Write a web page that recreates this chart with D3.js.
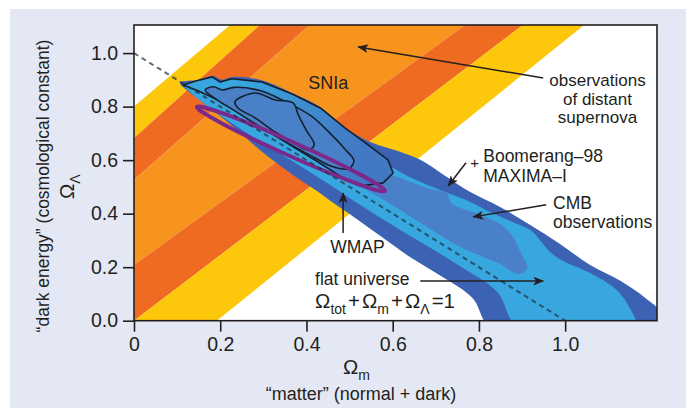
<!DOCTYPE html>
<html>
<head>
<meta charset="utf-8">
<script src="https://cdn.jsdelivr.net/npm/d3@7"></script>
<style>
  html, body { margin: 0; padding: 0; background: #ffffff; }
  svg text { font-family: "Liberation Sans", Arial, sans-serif; fill: #231f20; }
</style>
</head>
<body>
<svg id="chart" width="686" height="408"></svg>
<script>
// ---------- axes ----------
const xDomain = [0, 1.213];
const yDomain = [0, 1.105];
const xTicks = [0, 0.2, 0.4, 0.6, 0.8, 1.0];
const yTicks = [0, 0.2, 0.4, 0.6, 0.8, 1.0];
const xTickLabels = ["0", "0.2", "0.4", "0.6", "0.8", "1.0"];
const yTickLabels = ["0.0", "0.2", "0.4", "0.6", "0.8", "1.0"];

// ---------- SNIa confidence bands ----------
// each edge is a straight line through two (Ωm, ΩΛ) points, ordered from upper-left to lower-right
const sniaEdges = [
  [[0, 0.800], [0.223, 1.105]],
  [[0, 0.683], [0.292, 1.105]],
  [[0, 0.526], [0.408, 1.105]],
  [[0, 0.208], [0.768, 1.105]],
  [[0, 0.000], [0.902, 1.105]],
  [[0.192, 0], [1.044, 1.105]]
];
const sniaColors = ["#fdc70c", "#ef6b22", "#f7941d", "#ef6b22", "#fdc70c"];

// ---------- CMB (Boomerang-98 + MAXIMA-I) confidence regions, (Ωm, ΩΛ) ----------
const cmbOuter = [
  [0.107, 0.889], [0.153, 0.900], [0.183, 0.915], [0.204, 0.900], [0.227, 0.911],
  [0.292, 0.900], [0.362, 0.855], [0.432, 0.799], [0.490, 0.720], [0.548, 0.668],
  [0.617, 0.631], [0.664, 0.601], [0.722, 0.541], [0.780, 0.481], [0.849, 0.425],
  [0.919, 0.358], [0.988, 0.287], [1.058, 0.208], [1.128, 0.149], [1.186, 0.085],
  [1.220, 0.033], [1.220, -0.035], [0.833, -0.035], [0.785, 0.085], [0.712, 0.167],
  [0.640, 0.238], [0.571, 0.317], [0.513, 0.384], [0.466, 0.436], [0.420, 0.489],
  [0.362, 0.552], [0.292, 0.638], [0.234, 0.720], [0.176, 0.795], [0.130, 0.852]
];
const cmbMid = [
  [0.118, 0.878], [0.292, 0.885], [0.385, 0.825], [0.478, 0.720], [0.548, 0.638],
  [0.601, 0.571], [0.664, 0.519], [0.722, 0.481], [0.780, 0.444], [0.826, 0.406],
  [0.872, 0.373], [0.919, 0.339], [0.942, 0.301], [0.965, 0.257], [1.000, 0.219],
  [1.058, 0.178], [1.116, 0.119], [1.146, 0.058], [1.165, -0.035], [0.896, -0.035],
  [0.842, 0.108], [0.760, 0.200], [0.640, 0.317], [0.524, 0.433], [0.455, 0.507],
  [0.362, 0.601], [0.269, 0.694], [0.176, 0.795], [0.130, 0.855]
];
const cmbInner = [
  [0.478, 0.638], [0.548, 0.578], [0.617, 0.533], [0.687, 0.492], [0.724, 0.477],
  [0.738, 0.436], [0.791, 0.403], [0.849, 0.361], [0.877, 0.317], [0.896, 0.257],
  [0.912, 0.197], [0.891, 0.175], [0.849, 0.212], [0.756, 0.276], [0.680, 0.350],
  [0.606, 0.425], [0.548, 0.481], [0.490, 0.537], [0.466, 0.582]
];

// ---------- outlined contours in the low-Ωm corner ----------
const outlineOuter = [
  [0.114, 0.881], [0.153, 0.900], [0.181, 0.911], [0.200, 0.892], [0.227, 0.904],
  [0.297, 0.892], [0.367, 0.847], [0.432, 0.795], [0.490, 0.720], [0.543, 0.657],
  [0.589, 0.601], [0.601, 0.552], [0.578, 0.515], [0.524, 0.503], [0.478, 0.540],
  [0.427, 0.593], [0.374, 0.645], [0.316, 0.703], [0.258, 0.762], [0.200, 0.821],
  [0.148, 0.859]
];
const outlineMid = [
  [0.165, 0.862], [0.185, 0.874], [0.205, 0.862], [0.232, 0.872], [0.292, 0.860],
  [0.352, 0.818], [0.410, 0.766], [0.455, 0.700], [0.490, 0.640], [0.510, 0.598],
  [0.498, 0.568], [0.460, 0.576], [0.410, 0.617], [0.350, 0.670], [0.290, 0.727],
  [0.232, 0.786], [0.190, 0.828]
];
const outlineInner = [
  [0.234, 0.818], [0.281, 0.851], [0.327, 0.825], [0.369, 0.814], [0.381, 0.769],
  [0.399, 0.713], [0.418, 0.657], [0.404, 0.638], [0.374, 0.661], [0.327, 0.705],
  [0.281, 0.758], [0.241, 0.795]
];

// ---------- WMAP ellipse: major-axis end points and half width (in ΩΛ) ----------
const wmapEnds = [[0.146, 0.799], [0.582, 0.485]];
const wmapHalfWidth = 0.026;

// ---------- flat universe line ----------
const flatLine = [[0, 1], [1, 0]];

// ---------- layout ----------
const W = 686, H = 408;
const plot = { left: 134, top: 25, right: 657, bottom: 320.7 };
const ink = "#231f20";

const x = d3.scaleLinear().domain(xDomain).range([plot.left, plot.right]);
const y = d3.scaleLinear().domain(yDomain).range([plot.bottom, plot.top]);

const svg = d3.select("#chart");
const defs = svg.append("defs");

defs.append("clipPath").attr("id", "plotClip")
  .append("rect")
  .attr("x", plot.left).attr("y", plot.top)
  .attr("width", plot.right - plot.left).attr("height", plot.bottom - plot.top);

defs.append("marker")
  .attr("id", "arrowHead")
  .attr("viewBox", "0 0 12 10")
  .attr("refX", 11).attr("refY", 5)
  .attr("markerWidth", 12).attr("markerHeight", 9)
  .attr("markerUnits", "userSpaceOnUse")
  .attr("orient", "auto")
  .append("path")
  .attr("d", "M0,0 L12,5 L0,10 L3,5 Z")
  .attr("fill", ink);

const darkBlue = "#3c62b3", lightBlue = "#38a6df", midBlue = "#4a80c8";

// outer outlined region fades from light blue at the tip to medium blue
const grad = defs.append("linearGradient").attr("id", "tipFade")
  .attr("gradientUnits", "userSpaceOnUse")
  .attr("x1", x(0.25)).attr("y1", 0).attr("x2", x(0.52)).attr("y2", 0);
grad.append("stop").attr("offset", 0).attr("stop-color", lightBlue);
grad.append("stop").attr("offset", 1).attr("stop-color", "#4378c4");

// page background panel
svg.append("rect").attr("width", W).attr("height", H).attr("fill", "#ffffff");
svg.append("rect").attr("x", 10).attr("y", 9).attr("width", W - 10).attr("height", H - 9)
  .attr("fill", "#e4e8f4");

const area = svg.append("g").attr("clip-path", "url(#plotClip)");
area.append("rect")
  .attr("x", plot.left).attr("y", plot.top)
  .attr("width", plot.right - plot.left).attr("height", plot.bottom - plot.top)
  .attr("fill", "#ffffff");

// SNIa bands: polygons between consecutive edges, extended past the frame and clipped
function edgeAt(edge, lam) {
  const [[a0, b0], [a1, b1]] = edge;
  return [a0 + (lam - b0) * (a1 - a0) / (b1 - b0), lam];
}
const lamLo = -0.6, lamHi = 1.8;
const toPx = p => [x(p[0]), y(p[1])];
sniaColors.forEach((c, i) => {
  const e0 = sniaEdges[i], e1 = sniaEdges[i + 1];
  const poly = [edgeAt(e0, lamLo), edgeAt(e0, lamHi), edgeAt(e1, lamHi), edgeAt(e1, lamLo)].map(toPx);
  area.append("path").attr("d", "M" + poly.join("L") + "Z").attr("fill", c);
});

const smooth = d3.line().x(d => x(d[0])).y(d => y(d[1])).curve(d3.curveCatmullRomClosed.alpha(0.5));
const sharp = d3.line().x(d => x(d[0])).y(d => y(d[1])).curve(d3.curveLinearClosed);

area.append("path").attr("d", smooth(cmbOuter)).attr("fill", darkBlue);
area.append("path").attr("d", smooth(cmbMid)).attr("fill", lightBlue);
area.append("path").attr("d", smooth(cmbInner)).attr("fill", midBlue);

const outlineInk = "#15202e";
area.append("path").attr("d", sharp(outlineOuter)).attr("fill", "url(#tipFade)")
  .attr("stroke", outlineInk).attr("stroke-width", 1.6).attr("stroke-linejoin", "round");
area.append("path").attr("d", smooth(outlineMid)).attr("fill", midBlue)
  .attr("stroke", outlineInk).attr("stroke-width", 1.6);
area.append("path").attr("d", smooth(outlineInner)).attr("fill", midBlue)
  .attr("stroke", outlineInk).attr("stroke-width", 1.6);

// WMAP ellipse
{
  const [p0, p1] = wmapEnds.map(toPx);
  const cx = (p0[0] + p1[0]) / 2, cy = (p0[1] + p1[1]) / 2;
  const len = Math.hypot(p1[0] - p0[0], p1[1] - p0[1]);
  const ang = Math.atan2(p1[1] - p0[1], p1[0] - p0[0]) * 180 / Math.PI;
  const ry = y(0) - y(wmapHalfWidth);
  area.append("ellipse")
    .attr("cx", 0).attr("cy", 0).attr("rx", len / 2).attr("ry", ry)
    .attr("transform", `translate(${cx},${cy}) rotate(${ang})`)
    .attr("fill", "none").attr("stroke", "#7b2a8c").attr("stroke-width", 4);
}

// flat-universe line
area.append("path")
  .attr("d", d3.line().x(d => x(d[0])).y(d => y(d[1]))(flatLine))
  .attr("stroke", "#1d3442").attr("stroke-opacity", 0.72)
  .attr("stroke-width", 2).attr("stroke-dasharray", "5,4").attr("fill", "none");

// frame
svg.append("rect")
  .attr("x", plot.left).attr("y", plot.top)
  .attr("width", plot.right - plot.left).attr("height", plot.bottom - plot.top)
  .attr("fill", "none").attr("stroke", ink).attr("stroke-width", 1.6);

// axes
const xAxis = d3.axisBottom(x).tickValues(xTicks).tickFormat((d, i) => xTickLabels[i])
  .tickSize(11).tickPadding(5).tickSizeOuter(0);
const yAxis = d3.axisLeft(y).tickValues(yTicks).tickFormat((d, i) => yTickLabels[i])
  .tickSize(11).tickPadding(5).tickSizeOuter(0);

const gx = svg.append("g").attr("transform", `translate(0,${plot.bottom})`).call(xAxis);
const gy = svg.append("g").attr("transform", `translate(${plot.left},0)`).call(yAxis);
[gx, gy].forEach(g => {
  g.select(".domain").remove();
  g.attr("font-family", null).attr("font-size", null);
  g.selectAll(".tick line").attr("stroke", ink).attr("stroke-width", 1.6);
  g.selectAll(".tick text").attr("font-size", 19.5).attr("fill", "#333333");
});

// ---------- annotations ----------
// multi-line label: one text element, lines stacked with tspans
function label(px, py, lines, opts = {}) {
  const t = svg.append("text")
    .attr("x", px).attr("y", py)
    .attr("font-size", opts.size || 17.5)
    .attr("text-anchor", opts.anchor || "start");
  [].concat(lines).forEach((s, i) => {
    t.append("tspan").attr("x", px).attr("dy", i === 0 ? 0 : (opts.lead || 18)).text(s);
  });
  return t;
}
function arrow(from, to) {
  svg.append("line")
    .attr("x1", x(from[0])).attr("y1", y(from[1]))
    .attr("x2", x(to[0])).attr("y2", y(to[1]))
    .attr("stroke", ink).attr("stroke-width", 1.5)
    .attr("marker-end", "url(#arrowHead)");
}

label(x(0.404), y(0.866), "SNIa", { size: 18 });

arrow([0.949, 0.907], [0.520, 1.023]);
label(x(1.075), y(0.876), ["observations", "of distant", "supernova"], { anchor: "middle", lead: 18.5, size: 17 });

arrow([0.770, 0.590], [0.729, 0.504]);
label(x(0.780), y(0.571), "+", { size: 15 });
label(x(0.810), y(0.594), ["Boomerang\u201398", "MAXIMA\u2013I"], { lead: 20 });

arrow([0.956, 0.433], [0.787, 0.388]);
label(x(0.972), y(0.419), ["CMB", "observations"], { lead: 19.5 });

arrow([0.485, 0.328], [0.485, 0.477]);
label(x(0.455), y(0.253), "WMAP");

arrow([0.664, 0.148], [0.949, 0.148]);
label(x(0.420), y(0.133), "flat universe");

// Ωtot + Ωm + ΩΛ = 1
{
  const t = svg.append("text").attr("x", x(0.420)).attr("y", y(0.047)).attr("font-size", 20.5);
  const big = (s, dx) => t.append("tspan").attr("dx", dx || 0).text(s);
  const sub = s => t.append("tspan").attr("font-size", 14).attr("dy", 6).text(s);
  const back = (s, dx) => t.append("tspan").attr("dy", -6).attr("dx", dx || 0).text(s);
  big("\u03A9"); sub("tot"); back("+", 2); big("\u03A9", 2); sub("m"); back("+", 2);
  big("\u03A9", 2); sub("\u039B"); back("=1", 2);
}

// axis titles
{
  const t = svg.append("text").attr("x", 343).attr("y", 374).attr("font-size", 20.5);
  t.append("tspan").text("\u03A9");
  t.append("tspan").attr("font-size", 14).attr("dy", 6).text("m");
}
label(361, 400, "\u201Cmatter\u201D (normal + dark)", { size: 18, anchor: "middle" });

{
  const t = svg.append("text").attr("transform", "translate(74,199) rotate(-90)").attr("font-size", 20.5);
  t.append("tspan").text("\u03A9");
  t.append("tspan").attr("font-size", 14).attr("dy", 6).text("\u039B");
}
svg.append("text")
  .attr("transform", "translate(49,186) rotate(-90)")
  .attr("text-anchor", "middle").attr("font-size", 17.5)
  .text("\u201Cdark energy\u201D (cosmological constant)");
</script>
</body>
</html>
